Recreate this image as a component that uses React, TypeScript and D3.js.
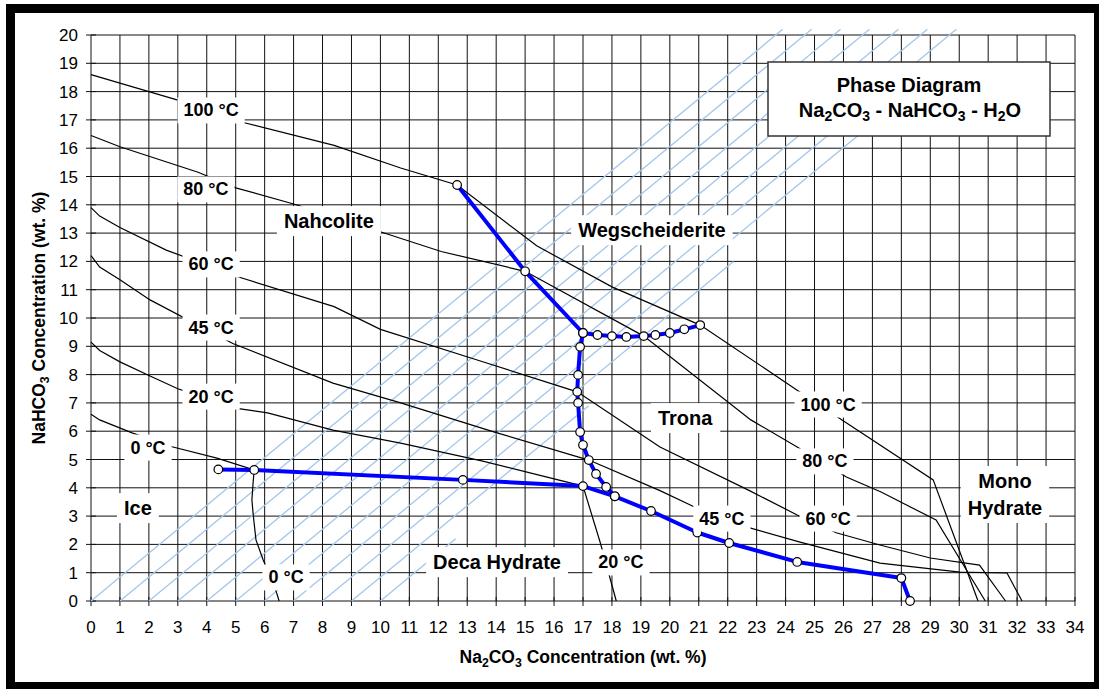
import React, { useEffect, useRef } from 'react';
import * as d3 from 'd3';

const W = 1099;
const H = 689;

// axis ticks
const xTicks = [0, 1, 2, 3, 4, 5, 6, 7, 8, 9, 10, 11, 12, 13, 14, 15, 16, 17, 18, 19, 20, 21, 22, 23, 24, 25, 26, 27, 28, 29, 30, 31, 32, 33, 34];
const yTicks = [0, 1, 2, 3, 4, 5, 6, 7, 8, 9, 10, 11, 12, 13, 14, 15, 16, 17, 18, 19, 20];

// isotherms [Na2CO3, NaHCO3] wt.%
const iso100 = [[0, 18.6], [2.0, 18.0], [3.0, 17.7], [5.3, 16.9], [8.4, 16.1], [10.7, 15.3], [12.65, 14.7], [15.4, 12.55], [18.0, 11.1], [21.05, 9.75], [24.4, 7.45], [25.95, 6.4], [29.1, 4.28], [30.65, 0]];
const iso80 = [[0, 16.45], [1.0, 16.05], [3.7, 15.15], [5.0, 14.6], [7.0, 14.03], [10.05, 13.03], [12.1, 12.35], [15.0, 11.65], [19.1, 9.36], [22.8, 6.4], [24.4, 5.44], [26.1, 4.38], [27.3, 3.85], [29.2, 2.86], [30.9, 0]];
const iso60 = [[0, 13.9], [0.3, 13.6], [1.0, 13.2], [2.6, 12.4], [5.1, 11.45], [8.4, 10.4], [10.0, 9.6], [13.4, 8.5], [16.8, 7.39], [19.66, 5.44], [22.77, 3.89], [24.4, 3.04], [25.75, 2.41], [27.26, 1.98], [29.0, 1.52], [30.7, 1.27], [31.6, 0]];
const iso45 = [[0, 12.2], [0.3, 11.8], [1.0, 11.35], [2.04, 10.64], [4.9, 9.1], [8.36, 7.7], [10.7, 7.0], [14.0, 5.95], [17.2, 4.98], [19.66, 3.9], [20.8, 3.35], [22.67, 2.61], [24.5, 2.08], [27.26, 1.34], [30.03, 1.02], [31.65, 0.99], [32.17, 0]];
const iso20 = [[0, 9.15], [0.3, 8.85], [1.0, 8.45], [2.04, 7.95], [3.0, 7.5], [5.1, 6.8], [6.1, 6.65], [8.36, 6.04], [10.7, 5.58], [13.5, 4.95], [17.0, 4.06], [17.6, 2.05], [18.15, 0]];
const iso0 = [[0, 6.6], [0.3, 6.4], [1.42, 5.94], [2.8, 5.45], [4.35, 5.05], [5.64, 4.63], [5.6, 4.17], [5.56, 3.57], [5.6, 3.1], [5.7, 2.16], [5.95, 1.45], [6.35, 0.5], [6.5, 0]];

// phase boundaries
const boundaryDeca = [[4.4, 4.65], [5.64, 4.63], [12.85, 4.28], [17.0, 4.06], [18.1, 3.7], [19.35, 3.18], [20.95, 2.42], [22.05, 2.05], [24.4, 1.38], [28.0, 0.81], [28.3, 0.0]];
const boundaryNahcolite = [[12.65, 14.7], [15.0, 11.65], [17.0, 9.47], [16.9, 8.98], [16.83, 7.99], [16.8, 7.39], [16.83, 7.0], [16.9, 5.97], [17.0, 5.51], [17.2, 4.98], [17.45, 4.49], [17.8, 4.03], [18.1, 3.7]];
const boundaryWeg = [[17.0, 9.47], [17.5, 9.4], [18.0, 9.36], [18.5, 9.33], [19.1, 9.36], [19.5, 9.4], [20.0, 9.47], [20.5, 9.6], [21.05, 9.75]];

// hatched band [x0, y0, x1, y1]
const hatchLines = [
  [0, 0, 23.9, 20.2], [1, 0, 24.9, 20.2], [2, 0, 25.9, 20.2], [3, 0, 26.9, 20.2],
  [4, 0, 27.9, 20.2], [5, 0, 28.9, 20.2], [6, 0, 29.9, 20.2], [7, 0, 26.8, 16.7],
  [8, 0, 22.2, 12.0], [9, 0, 17.2, 6.9], [10, 0, 12.6, 2.2],
];

// annotations: text lines, x, y (data units, label centre)
const regionLabels: [string[], number, number][] = [
  [['Nahcolite'], 8.22, 13.43],
  [['Wegscheiderite'], 19.38, 13.11],
  [['Trona'], 20.53, 6.47],
  [['Ice'], 1.62, 3.29],
  [['Deca Hydrate'], 14.03, 1.38],
  [['Mono', 'Hydrate'], 31.58, 3.77],
];
const tempLabels: [string[], number, number][] = [
  [['100 °C'], 4.15, 17.35],
  [['80 °C'], 3.97, 14.56],
  [['60 °C'], 4.15, 11.91],
  [['45 °C'], 4.15, 9.68],
  [['20 °C'], 4.15, 7.24],
  [['0 °C'], 1.97, 5.44],
  [['0 °C'], 6.74, 0.85],
  [['20 °C'], 18.31, 1.38],
  [['45 °C'], 21.8, 2.93],
  [['60 °C'], 25.47, 2.93],
  [['100 °C'], 25.47, 6.96],
  [['80 °C'], 25.36, 4.95],
];

const FONT = '"Liberation Sans", Arial, Helvetica, sans-serif';

// writes text with "_2" style subscripts into a d3 text selection
function richText(t: any, str: string, fs: number) {
  const parts = str.split(/_(\d)/);
  parts.forEach((p, i) => {
    if (p === '') return;
    const sub = i % 2 === 1;
    const ts = t.append('tspan').text(p);
    if (sub) {
      ts.attr('font-size', fs * 0.7).attr('dy', fs * 0.22);
    } else if (i > 0) {
      ts.attr('dy', -fs * 0.22);
    }
  });
}

export default function App() {
  const svgRef = useRef<SVGSVGElement>(null);

  useEffect(() => {
    if (!svgRef.current) return;
    const svg = d3.select(svgRef.current);
    svg.selectAll('*').remove();

    const x = d3.scaleLinear().domain([0, 34]).range([91, 1075]);
    const y = d3.scaleLinear().domain([0, 20]).range([601, 35]);

    svg.append('rect').attr('width', W).attr('height', H).attr('fill', '#fff');

    // grid
    const grid = svg.append('g').attr('stroke', '#111').attr('stroke-width', 1);
    xTicks.forEach(v => {
      grid.append('line').attr('x1', x(v)).attr('x2', x(v)).attr('y1', y(0)).attr('y2', y(20));
      grid.append('line').attr('x1', x(v)).attr('x2', x(v)).attr('y1', y(0) - 4).attr('y2', y(0) + 5);
    });
    yTicks.forEach(v => {
      grid.append('line').attr('x1', x(0)).attr('x2', x(34)).attr('y1', y(v)).attr('y2', y(v));
      grid.append('line').attr('x1', x(0) - 5).attr('x2', x(0) + 5).attr('y1', y(v)).attr('y2', y(v));
    });

    // tick labels
    svg.append('g')
      .selectAll('text')
      .data(xTicks)
      .join('text')
      .attr('x', d => x(d))
      .attr('y', y(0) + 32)
      .attr('text-anchor', 'middle')
      .attr('font-family', FONT)
      .attr('font-size', 17)
      .text(d => d);
    svg.append('g')
      .selectAll('text')
      .data(yTicks)
      .join('text')
      .attr('x', 78)
      .attr('y', d => y(d) + 6)
      .attr('text-anchor', 'end')
      .attr('font-family', FONT)
      .attr('font-size', 17)
      .text(d => d);

    // hatching
    svg.append('g')
      .attr('stroke', '#a4c6ea')
      .attr('stroke-width', 1.3)
      .selectAll('line')
      .data(hatchLines)
      .join('line')
      .attr('x1', d => x(d[0]))
      .attr('y1', d => y(d[1]))
      .attr('x2', d => x(d[2]))
      .attr('y2', d => y(d[3]));

    const line = d3.line<number[]>().x(d => x(d[0])).y(d => y(d[1]));

    // isotherms
    [iso100, iso80, iso60, iso45, iso20, iso0].forEach(pts => {
      svg.append('path')
        .attr('d', line(pts))
        .attr('fill', 'none')
        .attr('stroke', '#000')
        .attr('stroke-width', 1.2);
    });

    // phase boundaries
    const bounds = [boundaryDeca, boundaryNahcolite, boundaryWeg];
    bounds.forEach(pts => {
      svg.append('path')
        .attr('d', line(pts))
        .attr('fill', 'none')
        .attr('stroke', '#0000ff')
        .attr('stroke-width', 4)
        .attr('stroke-linejoin', 'round');
    });
    svg.append('g')
      .selectAll('circle')
      .data(bounds.flat())
      .join('circle')
      .attr('cx', d => x(d[0]))
      .attr('cy', d => y(d[1]))
      .attr('r', 4.3)
      .attr('fill', '#fff')
      .attr('stroke', '#000')
      .attr('stroke-width', 1.2);

    // labels with white boxes
    const addLabel = (lines: string[], cx: number, cy: number, fs: number, padX: number, padY: number) => {
      const g = svg.append('g');
      const lh = fs * 1.35;
      const t = g.append('text')
        .attr('font-family', FONT)
        .attr('font-weight', 'bold')
        .attr('font-size', fs)
        .attr('text-anchor', 'middle');
      lines.forEach((s, i) => {
        t.append('tspan')
          .attr('x', cx)
          .attr('y', cy + fs * 0.36 + (i - (lines.length - 1) / 2) * lh)
          .text(s);
      });
      const bb = (t.node() as SVGTextElement).getBBox();
      g.insert('rect', 'text')
        .attr('x', bb.x - padX)
        .attr('y', bb.y - padY)
        .attr('width', bb.width + padX * 2)
        .attr('height', bb.height + padY * 2)
        .attr('fill', '#fff');
    };
    regionLabels.forEach(([s, lx, ly]) => addLabel(s, x(lx), y(ly), 20, 7, 4));
    tempLabels.forEach(([s, lx, ly]) => addLabel(s, x(lx), y(ly), 18, 6, 3));

    // title box
    const tb = svg.append('g');
    tb.append('rect')
      .attr('x', 768).attr('y', 62).attr('width', 282).attr('height', 74)
      .attr('fill', '#fff').attr('stroke', '#333').attr('stroke-width', 1.5);
    const t1 = tb.append('text')
      .attr('x', 909).attr('y', 92)
      .attr('text-anchor', 'middle')
      .attr('font-family', FONT).attr('font-weight', 'bold').attr('font-size', 20);
    richText(t1, 'Phase Diagram', 20);
    const t2 = tb.append('text')
      .attr('x', 910).attr('y', 117)
      .attr('text-anchor', 'middle')
      .attr('font-family', FONT).attr('font-weight', 'bold').attr('font-size', 20);
    richText(t2, 'Na_2CO_3 - NaHCO_3 - H_2O', 20);

    // axis titles
    const xt = svg.append('text')
      .attr('x', (x(0) + x(34)) / 2).attr('y', 663)
      .attr('text-anchor', 'middle')
      .attr('font-family', FONT).attr('font-weight', 'bold').attr('font-size', 17.5);
    richText(xt, 'Na_2CO_3 Concentration (wt. %)', 17.5);
    const yt = svg.append('text')
      .attr('transform', `translate(45, ${(y(0) + y(20)) / 2}) rotate(-90)`)
      .attr('text-anchor', 'middle')
      .attr('font-family', FONT).attr('font-weight', 'bold').attr('font-size', 17.5);
    richText(yt, 'NaHCO_3 Concentration (wt. %)', 17.5);

    // outer frame
    svg.append('rect')
      .attr('x', 10.5).attr('y', 8.5).attr('width', 1088).attr('height', 678)
      .attr('fill', 'none').attr('stroke', '#000').attr('stroke-width', 9);
  }, []);

  return (
    <svg
      ref={svgRef}
      width={W}
      height={H}
      style={{ position: 'absolute', left: 0, top: 0, display: 'block' }}
    />
  );
}
